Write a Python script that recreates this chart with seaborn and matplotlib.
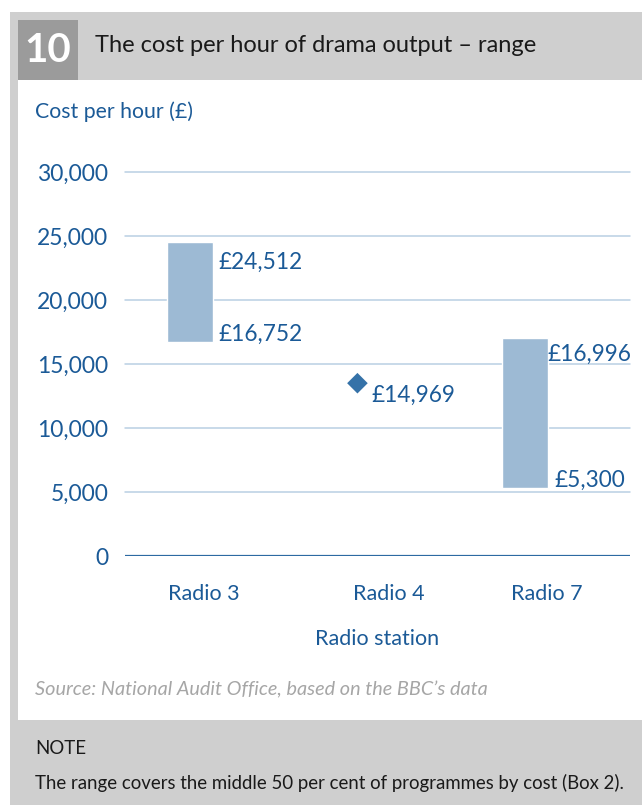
import matplotlib
matplotlib.use("Agg")
import matplotlib.pyplot as plt
import matplotlib.transforms as mtransforms
from matplotlib.patches import Rectangle
import seaborn as sns
import pandas as pd

# ---- data ----
stations = ["Radio 3", "Radio 4", "Radio 7"]
range_stations = ["Radio 3", "Radio 7"]
range_low = [16752, 5300]
range_high = [24512, 16996]
range_low_labels = ["£16,752", "£5,300"]
range_high_labels = ["£24,512", "£16,996"]
point_station = "Radio 4"
point_value = 13500          # position of diamond as drawn
point_label = "£14,969"
y_ticks = [0, 5000, 10000, 15000, 20000, 25000, 30000]
y_tick_labels = ["0", "5,000", "10,000", "15,000", "20,000", "25,000", "30,000"]

sns.set_style("white")
plt.rcParams["font.family"] = ["Lato", "DejaVu Sans"]

BLUE_TXT = "#1b5a97"
BAR = "#9dbad4"
GRID = "#b9cfe3"
ZERO = "#2d6aa2"
DIAM = "#3572a8"
GRAY = "#cfcfcf"

W, H = 642, 805
fig = plt.figure(figsize=(W / 100, H / 100), dpi=100)
fig.patch.set_facecolor("white")

def px_rect(x0, y0, x1, y1, color):
    fig.patches.append(Rectangle((x0 / W, 1 - y1 / H), (x1 - x0) / W, (y1 - y0) / H,
                                 transform=fig.transFigure, facecolor=color,
                                 edgecolor="none", zorder=0))

# panels
px_rect(10, 12, W, 80, GRAY)      # header
px_rect(10, 80, 18, 720, GRAY)    # left strip
px_rect(10, 720, W, H, GRAY)      # note panel
px_rect(18, 20, 78, 80, "#9b9b9b")  # number box

fig.text(48 / W, 1 - 50 / H, "10", color="white", fontsize=29, fontweight="bold",
         ha="center", va="center")
fig.text(95 / W, 1 - 46 / H, "The cost per hour of drama output – range", color="#1a1a1a",
         fontsize=17, ha="left", va="center")

fig.text(35 / W, 1 - 112 / H, "Cost per hour (£)", color=BLUE_TXT, fontsize=15.3,
         ha="left", va="center")

ax = fig.add_axes([125 / W, 1 - 556 / H, (630 - 125) / W, (556 - 172) / H])
ax.set_facecolor("none")

df = pd.DataFrame({"station": range_stations,
                   "height": [h - l for h, l in zip(range_high, range_low)],
                   "low": range_low})
sns.barplot(data=df, x="station", y="height", order=stations, color=BAR,
            saturation=1, width=0.275, bottom=df["low"].values, ax=ax, zorder=3)

pidx = stations.index(point_station)
sns.scatterplot(x=[pidx], y=[point_value], marker="D", s=110, color=DIAM,
                edgecolor="none", ax=ax, zorder=4)

ax.set_ylim(0, 30000)
ax.set_xlim(-0.39, 2.63)
ax.set_yticks(y_ticks)
ax.set_yticklabels(y_tick_labels)
for t in y_ticks[1:]:
    ax.axhline(t, color=GRID, lw=1.1, zorder=1, clip_on=False)
ax.axhline(0, color=ZERO, lw=1.6, zorder=2)
for s in ax.spines.values():
    s.set_visible(False)
ax.tick_params(axis="y", length=0, pad=12, labelsize=16.5, labelcolor=BLUE_TXT)
ax.tick_params(axis="x", length=0, pad=20, labelsize=15.5, labelcolor=BLUE_TXT)
ax.set_ylabel("")
ax.set_xlabel("Radio station", color=BLUE_TXT, fontsize=15.5, labelpad=18)

offsets = [14, 31, 22]
for lab, off in zip(ax.get_xticklabels(), offsets):
    lab.set_transform(lab.get_transform() + mtransforms.ScaledTranslation(off / 100, 0, fig.dpi_scale_trans))

# value labels
label_dx_high = [4, 0]
label_dx_low = [4, 5]
label_dy_high = [-7, -4]
for st, lo, hi, llab, hlab, dh, dl, dyh in zip(range_stations, range_low, range_high,
                                               range_low_labels, range_high_labels,
                                               label_dx_high, label_dx_low, label_dy_high):
    xi = stations.index(st)
    ax.annotate(hlab, (xi + 0.1375, hi), xytext=(dh, dyh), textcoords="offset points",
                ha="left", va="top", color=BLUE_TXT, fontsize=16.3)
    ax.annotate(llab, (xi + 0.1375, lo), xytext=(dl, -2), textcoords="offset points",
                ha="left", va="bottom", color=BLUE_TXT, fontsize=16.3)
ax.annotate(point_label, (pidx, point_value), xytext=(10, -9), textcoords="offset points",
            ha="left", va="center", color=BLUE_TXT, fontsize=16.3)

fig.text(35 / W, 1 - 690 / H, "Source: National Audit Office, based on the BBC’s data",
         color="#a6a6a6", fontsize=14.3, style="italic", ha="left", va="center")
fig.text(35 / W, 1 - 748 / H, "NOTE", color="#1a1a1a", fontsize=13.4, ha="left", va="center")
fig.text(35 / W, 1 - 783 / H, "The range covers the middle 50 per cent of programmes by cost (Box 2).",
         color="#1a1a1a", fontsize=13.4, ha="left", va="center")

fig.savefig("out.png", dpi=100)
